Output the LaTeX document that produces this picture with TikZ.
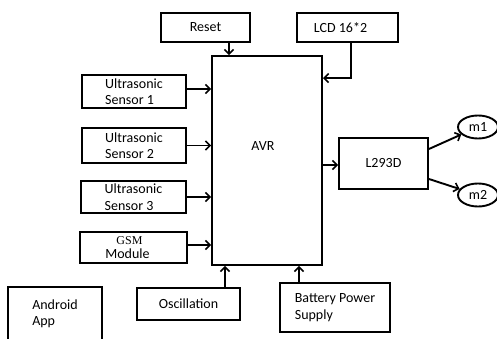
\documentclass[tikz,border=0pt]{standalone}
\usepackage{fontspec}
\setmainfont{Carlito}
\newfontfamily\gsmfont{Liberation Serif}
\usetikzlibrary{arrows.meta,shapes.geometric}

\begin{document}
\begin{tikzpicture}[
    x=1pt, y=-1pt,
    box/.style={rectangle, draw, line width=1.9pt, align=left, inner sep=0pt, font=\fontsize{14}{16.5}\selectfont},
    motor/.style={ellipse, draw, line width=1.9pt, inner sep=0pt, minimum width=40pt, minimum height=23pt, font=\fontsize{14}{16.5}\selectfont},
    arrow/.style={-{Straight Barb[length=4.5pt,width=9pt,line width=1.6pt]}, line width=1.9pt}
]
\useasboundingbox (0,0) rectangle (497,339);

% Nodes
\node[box, minimum width=89pt, minimum height=29pt] (reset) at (205.5,27.5) {Reset};
\node[box, minimum width=101pt, minimum height=29pt] (lcd) at (347.5,27.5) {LCD 16*2\hspace{14pt}};
\node[box, minimum width=110pt, minimum height=209pt] (avr) at (267,160.5) {};
\node[font=\fontsize{14}{16.5}\selectfont] (avrtext) at (263,146) {AVR};
\node[box, minimum width=104pt, minimum height=33pt] (us1) at (134,91.5) {Ultrasonic\\Sensor 1};
\node[box, minimum width=104pt, minimum height=35pt] (us2) at (134,145.5) {Ultrasonic\\Sensor 2};
\node[box, minimum width=105pt, minimum height=32pt] (us3) at (133.5,197) {Ultrasonic\\Sensor 3};
\node[box, minimum width=107pt, minimum height=31pt, align=center] (gsm) at (133.5,247.5) {\hspace{-8pt}{\gsmfont\fontsize{12}{12}\selectfont GSM}\\[-3pt]\hspace{-12pt}Module};
\node[box, minimum width=94pt, minimum height=54pt] (android) at (55,314) {Android\\App};
\node[box, minimum width=103pt, minimum height=32pt] (osc) at (188.5,304) {Oscillation};
\node[box, minimum width=110pt, minimum height=49pt] (battery) at (335,307.5) {Battery Power\\Supply};
\node[box, minimum width=89pt, minimum height=51pt] (driver) at (383.5,163.5) {L293D};
\node[motor] (m1) at (478,127) {m1};
\node[motor] (m2) at (478,195) {m2};

% Arrows
\draw[arrow] ([xshift=23.5]reset.south) -- ([xshift=23.5]reset.south |- avr.north);
\draw[arrow] ([xshift=3.5]lcd.south) |- ([yshift=-23]avr.north east);
\draw[arrow] ([yshift=2.5]us1.east) -- ([yshift=2.5]us1.east -| avr.west);
\draw[arrow] (us2.east) -- (us2.east -| avr.west);
\draw[arrow] (us3.east) -- (us3.east -| avr.west);
\draw[arrow] ([yshift=2.5]gsm.east) -- ([yshift=2.5]gsm.east -| avr.west);
\draw[arrow] ([xshift=36.5]osc.north) -- ([xshift=36.5]osc.north |- avr.south);
\draw[arrow] ([xshift=-36]battery.north) -- ([xshift=-36]battery.north |- avr.south);
\draw[arrow] ([yshift=-1.5]driver.west -| avr.east) -- ([yshift=-1.5]driver.west);
\draw[arrow] ([yshift=14.5]driver.east) -- (m1);
\draw[arrow] ([yshift=-15.5]driver.east) -- (m2);

\end{tikzpicture}
\end{document}
